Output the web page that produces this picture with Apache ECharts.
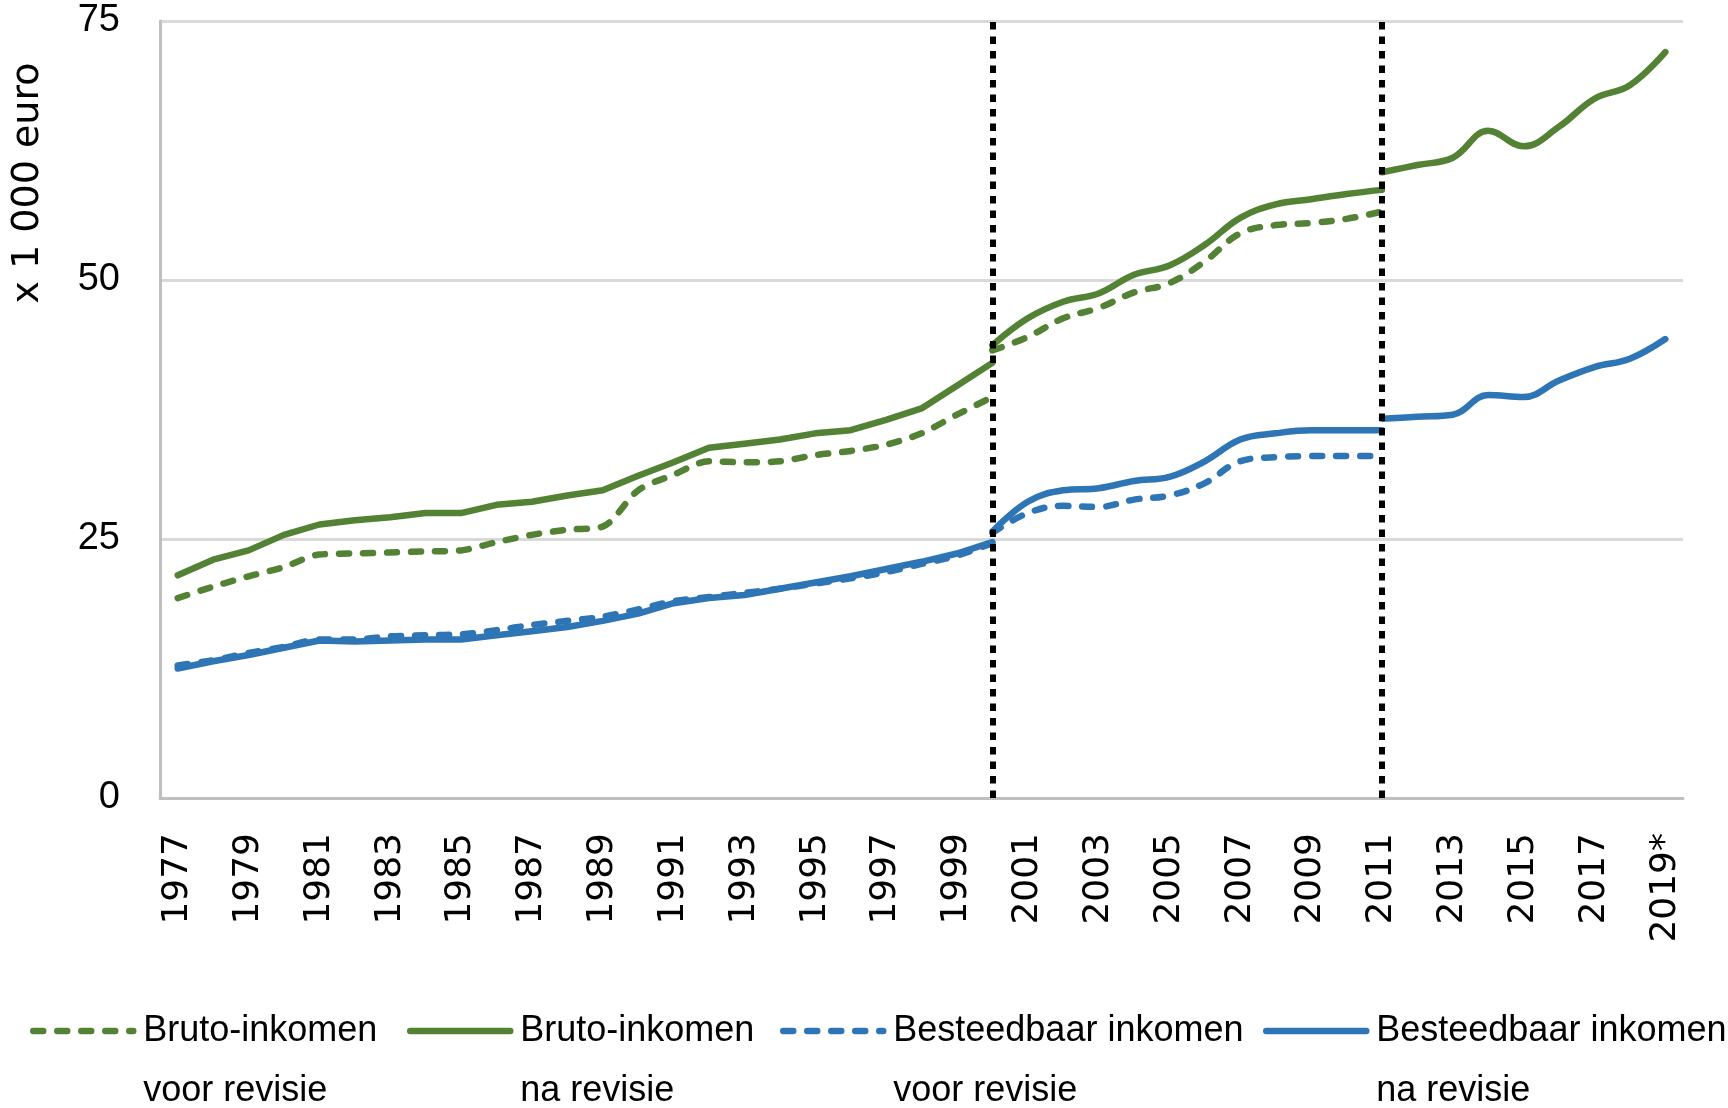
<!DOCTYPE html>
<html>
<head>
<meta charset="utf-8">
<script src="https://cdn.jsdelivr.net/npm/echarts@6/dist/echarts.min.js"></script>
<style>
  html, body { margin: 0; padding: 0; background: #fff; }
  #chart { width: 1728px; height: 1108px; }
</style>
</head>
<body>
<div id="chart"></div>
<script>
const years = [
  '1977', '1978', '1979', '1980', '1981', '1982', '1983', '1984', '1985', '1986',
  '1987', '1988', '1989', '1990', '1991', '1992', '1993', '1994', '1995', '1996',
  '1997', '1998', '1999', '2000', '2001', '2002', '2003', '2004', '2005', '2006',
  '2007', '2008', '2009', '2010', '2011', '2012', '2013', '2014', '2015', '2016',
  '2017', '2018', '2019*'
];
const yTicks = [0, 25, 50, 75];

// bruto-inkomen voor revisie (x 1 000 euro)
const brutoVoor1977tot2000 = [19.3, 20.4, 21.4, 22.3, 23.5, 23.6, 23.7, 23.8, 23.9, 24.7,
  25.4, 25.9, 26.2, 29.7, 31.2, 32.5, 32.4, 32.5, 33.1, 33.5, 34.1, 35.2, 37.0, 38.7];
const brutoVoor2000tot2011 = [43.2, 44.5, 46.3, 47.3, 48.8, 49.7, 51.8, 54.5, 55.3, 55.5, 55.9, 56.6];

// bruto-inkomen na revisie
const brutoNa1977tot2000 = [21.5, 23.0, 23.9, 25.4, 26.4, 26.8, 27.1, 27.5, 27.5, 28.3,
  28.6, 29.2, 29.7, 31.1, 32.4, 33.8, 34.2, 34.6, 35.2, 35.5, 36.5, 37.6, 39.8, 42.0];
const brutoNa2000tot2011 = [43.7, 46.3, 47.9, 48.7, 50.5, 51.4, 53.4, 56.0, 57.3, 57.8, 58.3, 58.7];
const brutoNa2011tot2019 = [60.4, 61.1, 61.8, 64.4, 62.9, 64.8, 67.5, 68.8, 72.0];

// besteedbaar inkomen voor revisie
const besteedVoor1977tot2000 = [12.8, 13.3, 14.0, 14.6, 15.3, 15.3, 15.6, 15.7, 15.8, 16.2,
  16.7, 17.1, 17.5, 18.2, 19.0, 19.4, 19.8, 20.2, 20.7, 21.2, 21.8, 22.6, 23.4, 24.6];
const besteedVoor2000tot2011 = [25.6, 27.5, 28.2, 28.1, 28.8, 29.2, 30.4, 32.5, 32.9, 33.0, 33.0, 33.0];

// besteedbaar inkomen na revisie
const besteedNa1977tot2000 = [12.5, 13.2, 13.8, 14.5, 15.2, 15.1, 15.2, 15.3, 15.3, 15.7,
  16.1, 16.5, 17.1, 17.8, 18.8, 19.3, 19.6, 20.2, 20.8, 21.4, 22.1, 22.8, 23.6, 24.7];
const besteedNa2000tot2011 = [25.7, 28.6, 29.7, 29.9, 30.6, 31.0, 32.5, 34.6, 35.2, 35.5, 35.5, 35.5];
const besteedNa2011tot2019 = [36.6, 36.8, 37.0, 38.9, 38.7, 40.3, 41.6, 42.4, 44.3];

const breakYears = ['2000', '2011'];

const names = [
  'Bruto-inkomen voor revisie',
  'Bruto-inkomen na revisie',
  'Besteedbaar inkomen voor revisie',
  'Besteedbaar inkomen na revisie'
];
const legendText = {
  'Bruto-inkomen voor revisie': 'Bruto-inkomen\nvoor revisie',
  'Bruto-inkomen na revisie': 'Bruto-inkomen\nna revisie',
  'Besteedbaar inkomen voor revisie': 'Besteedbaar inkomen\nvoor revisie',
  'Besteedbaar inkomen na revisie': 'Besteedbaar inkomen\nna revisie'
};
const legendLeft = [30, 407, 780, 1263];

const GREEN = '#548235';
const BLUE = '#2e75b6';
const TEXT_FONT = 'Liberation Sans';
const ROT_FONT = 'DejaVu Sans';
const LINE_W = 6.5;

// put a segment on the full year axis, nulls elsewhere
const pad = (startYear, values) => {
  const start = years.indexOf(startYear);
  return years.map((_, i) => (i >= start && i < start + values.length ? values[i - start] : null));
};

const line = (name, startYear, values, color, dashed, smooth) => ({
  name,
  type: 'line',
  data: pad(startYear, values),
  symbol: 'none',
  smooth,
  lineStyle: {
    color,
    width: LINE_W,
    cap: 'round',
    join: 'round',
    type: dashed ? [10, 14] : 'solid'
  },
  itemStyle: { color },
  emphasis: { disabled: true }
});

const series = [
  line(names[0], '1977', brutoVoor1977tot2000, GREEN, true, 0.3),
  line(names[0], '2000', brutoVoor2000tot2011, GREEN, true, 0.4),
  line(names[1], '1977', brutoNa1977tot2000, GREEN, false, false),
  line(names[1], '2000', brutoNa2000tot2011, GREEN, false, 0.4),
  line(names[1], '2011', brutoNa2011tot2019, GREEN, false, 0.4),
  line(names[2], '1977', besteedVoor1977tot2000, BLUE, true, 0.3),
  line(names[2], '2000', besteedVoor2000tot2011, BLUE, true, 0.4),
  line(names[3], '1977', besteedNa1977tot2000, BLUE, false, false),
  line(names[3], '2000', besteedNa2000tot2011, BLUE, false, 0.4),
  line(names[3], '2011', besteedNa2011tot2019, BLUE, false, 0.4)
];

// dotted break lines on top of everything
series[series.length - 1].markLine = {
  silent: true,
  symbol: ['none', 'none'],
  label: { show: false },
  lineStyle: { color: '#000', width: 6, type: [7.5, 7], cap: 'butt' },
  emphasis: { disabled: true },
  data: breakYears.map(y => [
    { coord: [y, yTicks[0]] },
    { coord: [y, yTicks[yTicks.length - 1]] }
  ])
};

const chart = echarts.init(document.getElementById('chart'));
chart.setOption({
  animation: false,
  backgroundColor: '#fff',
  grid: { left: 160, right: 45, top: 21, bottom: 310 },
  xAxis: {
    type: 'category',
    data: years,
    boundaryGap: true,
    axisLine: { lineStyle: { color: '#bfbfbf', width: 3 } },
    axisTick: { show: false },
    axisLabel: {
      interval: 1,
      rotate: 90,
      margin: 35,
      color: '#000',
      fontFamily: ROT_FONT,
      fontSize: 36
    },
    splitLine: { show: false }
  },
  yAxis: {
    type: 'value',
    min: yTicks[0],
    max: yTicks[yTicks.length - 1],
    interval: 25,
    axisLine: { show: true, lineStyle: { color: '#bfbfbf', width: 3 } },
    axisTick: { show: false },
    axisLabel: { margin: 40, color: '#000', fontFamily: TEXT_FONT, fontSize: 38 },
    splitLine: { lineStyle: { color: '#d9d9d9', width: 3 } }
  },
  legend: names.map((n, i) => ({
    data: [n],
    left: legendLeft[i],
    top: 941,
    padding: 0,
    itemWidth: 100,
    itemHeight: 14,
    selectedMode: false,
    itemStyle: { opacity: 0 },
    lineStyle: { width: LINE_W },
    // leading empty row so the icon lines up with the first text row
    formatter: name => '\n' + legendText[name],
    textStyle: {
      color: '#000',
      fontFamily: TEXT_FONT,
      fontSize: 36,
      lineHeight: 60,
      padding: [0, 0, 0, 5]
    }
  })),
  graphic: [{
    type: 'text',
    x: 28,
    y: 183,
    rotation: Math.PI / 2,
    style: {
      text: 'x 1 000 euro',
      fill: '#000',
      fontFamily: ROT_FONT,
      fontSize: 38,
      align: 'center',
      verticalAlign: 'middle'
    }
  }],
  series
});
</script>
</body>
</html>
